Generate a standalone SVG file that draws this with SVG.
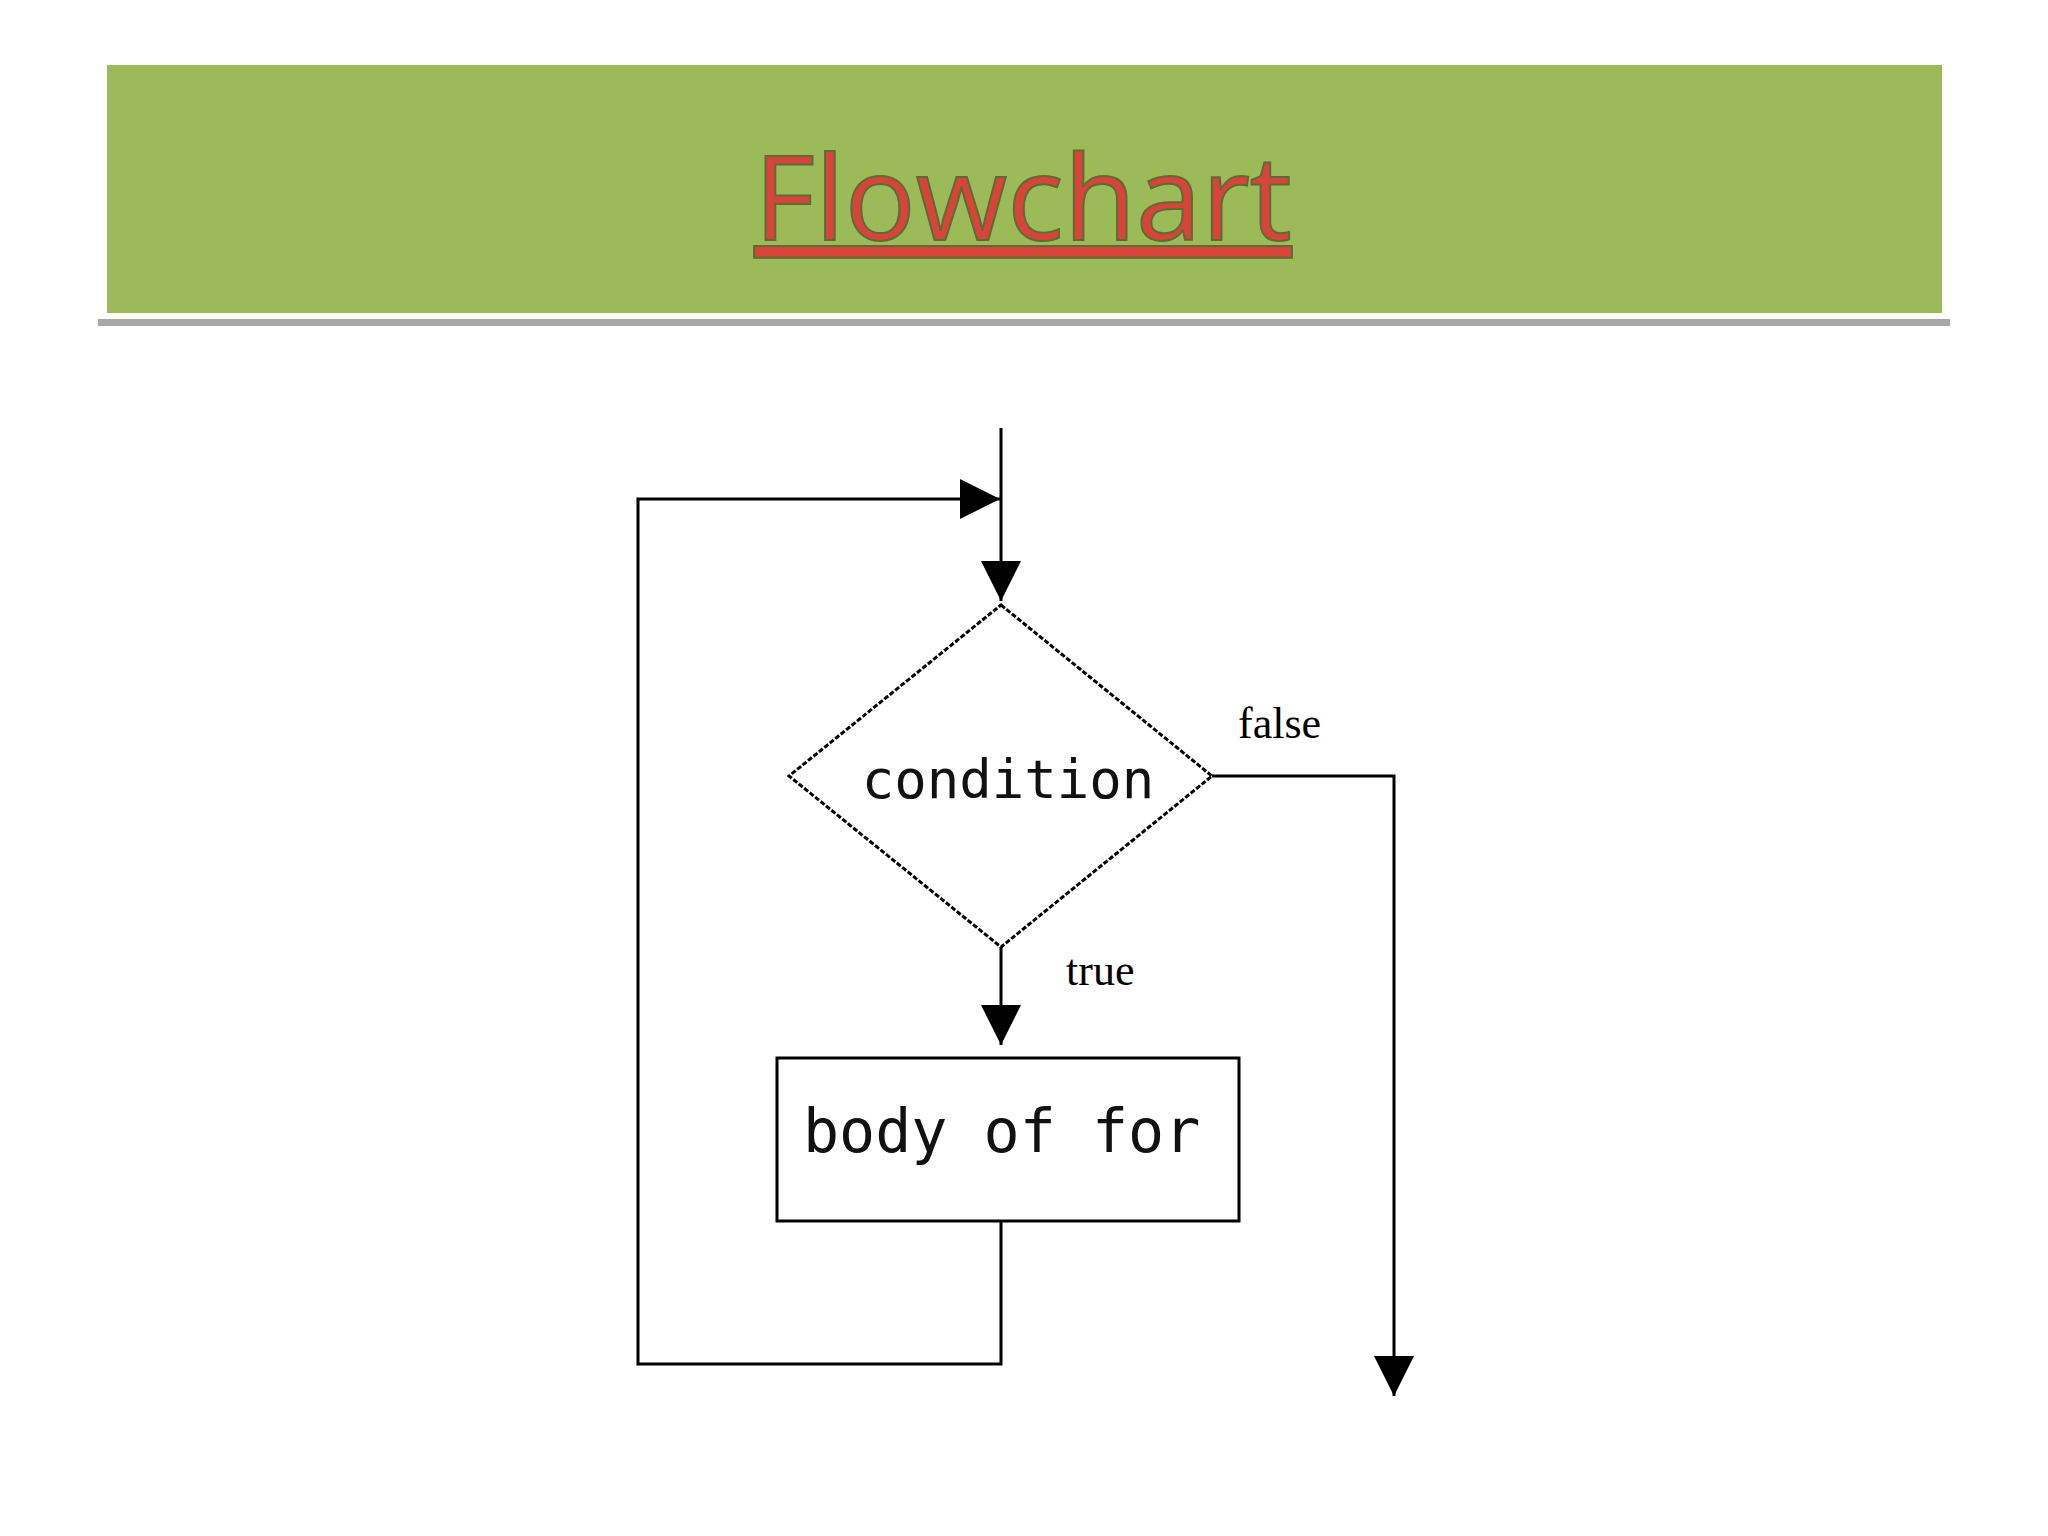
<svg xmlns="http://www.w3.org/2000/svg" width="2048" height="1536" viewBox="0 0 2048 1536">
<defs>
<marker id="ah" viewBox="0 0 10 10" refX="10" refY="5" markerWidth="10" markerHeight="10" markerUnits="userSpaceOnUse" orient="auto"><path d="M0,0 L10,5 L0,10 z" fill="#000"/></marker>
<marker id="big" viewBox="0 0 10 10" refX="10" refY="5" markerWidth="40" markerHeight="40" markerUnits="userSpaceOnUse" orient="auto"><path d="M0,0 L10,5 L0,10 z" fill="#000"/></marker>
<style>
.ln{fill:none;stroke:#000;stroke-width:3}
.mono{font-family:"DejaVu Sans Mono","Liberation Mono",monospace;fill:#111}
.ser{font-family:"Liberation Serif",serif;fill:#000;font-size:44px}
</style>
</defs>
<rect width="2048" height="1536" fill="#fff"/>
<g id="header">
<rect x="98" y="62" width="1852" height="264" fill="#a7a7a7"/>
<rect x="98" y="59" width="1852" height="260" fill="#fff"/>
<rect x="107" y="65" width="1835" height="248" fill="#9bbb59"/>
<text x="1023" y="240" text-anchor="middle" font-family="'Open Sans','DejaVu Sans',sans-serif" font-size="118" fill="#d9443a" stroke="#5f6b35" stroke-width="2" text-decoration="underline">Flowchart</text>
</g>
<g id="connectors">
<path class="ln" d="M1001,428 V601" marker-end="url(#big)"/>
<path class="ln" d="M1001,947 V1045" marker-end="url(#big)"/>
<path class="ln" d="M1001,1221 V1364 H638 V499 H1000" marker-end="url(#big)"/>
<path class="ln" d="M1212,776 H1394 V1396" marker-end="url(#big)"/>
<text class="ser" x="1238" y="738">false</text>
<text class="ser" x="1066" y="985">true</text>
</g>
<g id="condition">
<polygon points="1001,605 1212,776 1001,947 789,776" fill="#fff" stroke="#000" stroke-width="3" stroke-dasharray="5,2"/>
<text class="mono" x="1008" y="798" text-anchor="middle" font-size="54">condition</text>
</g>
<g id="body">
<rect x="777" y="1058" width="462" height="163" fill="#fff" stroke="#000" stroke-width="3"/>
<text class="mono" x="803" y="1152" font-size="60">body of for</text>
</g>
</svg>
